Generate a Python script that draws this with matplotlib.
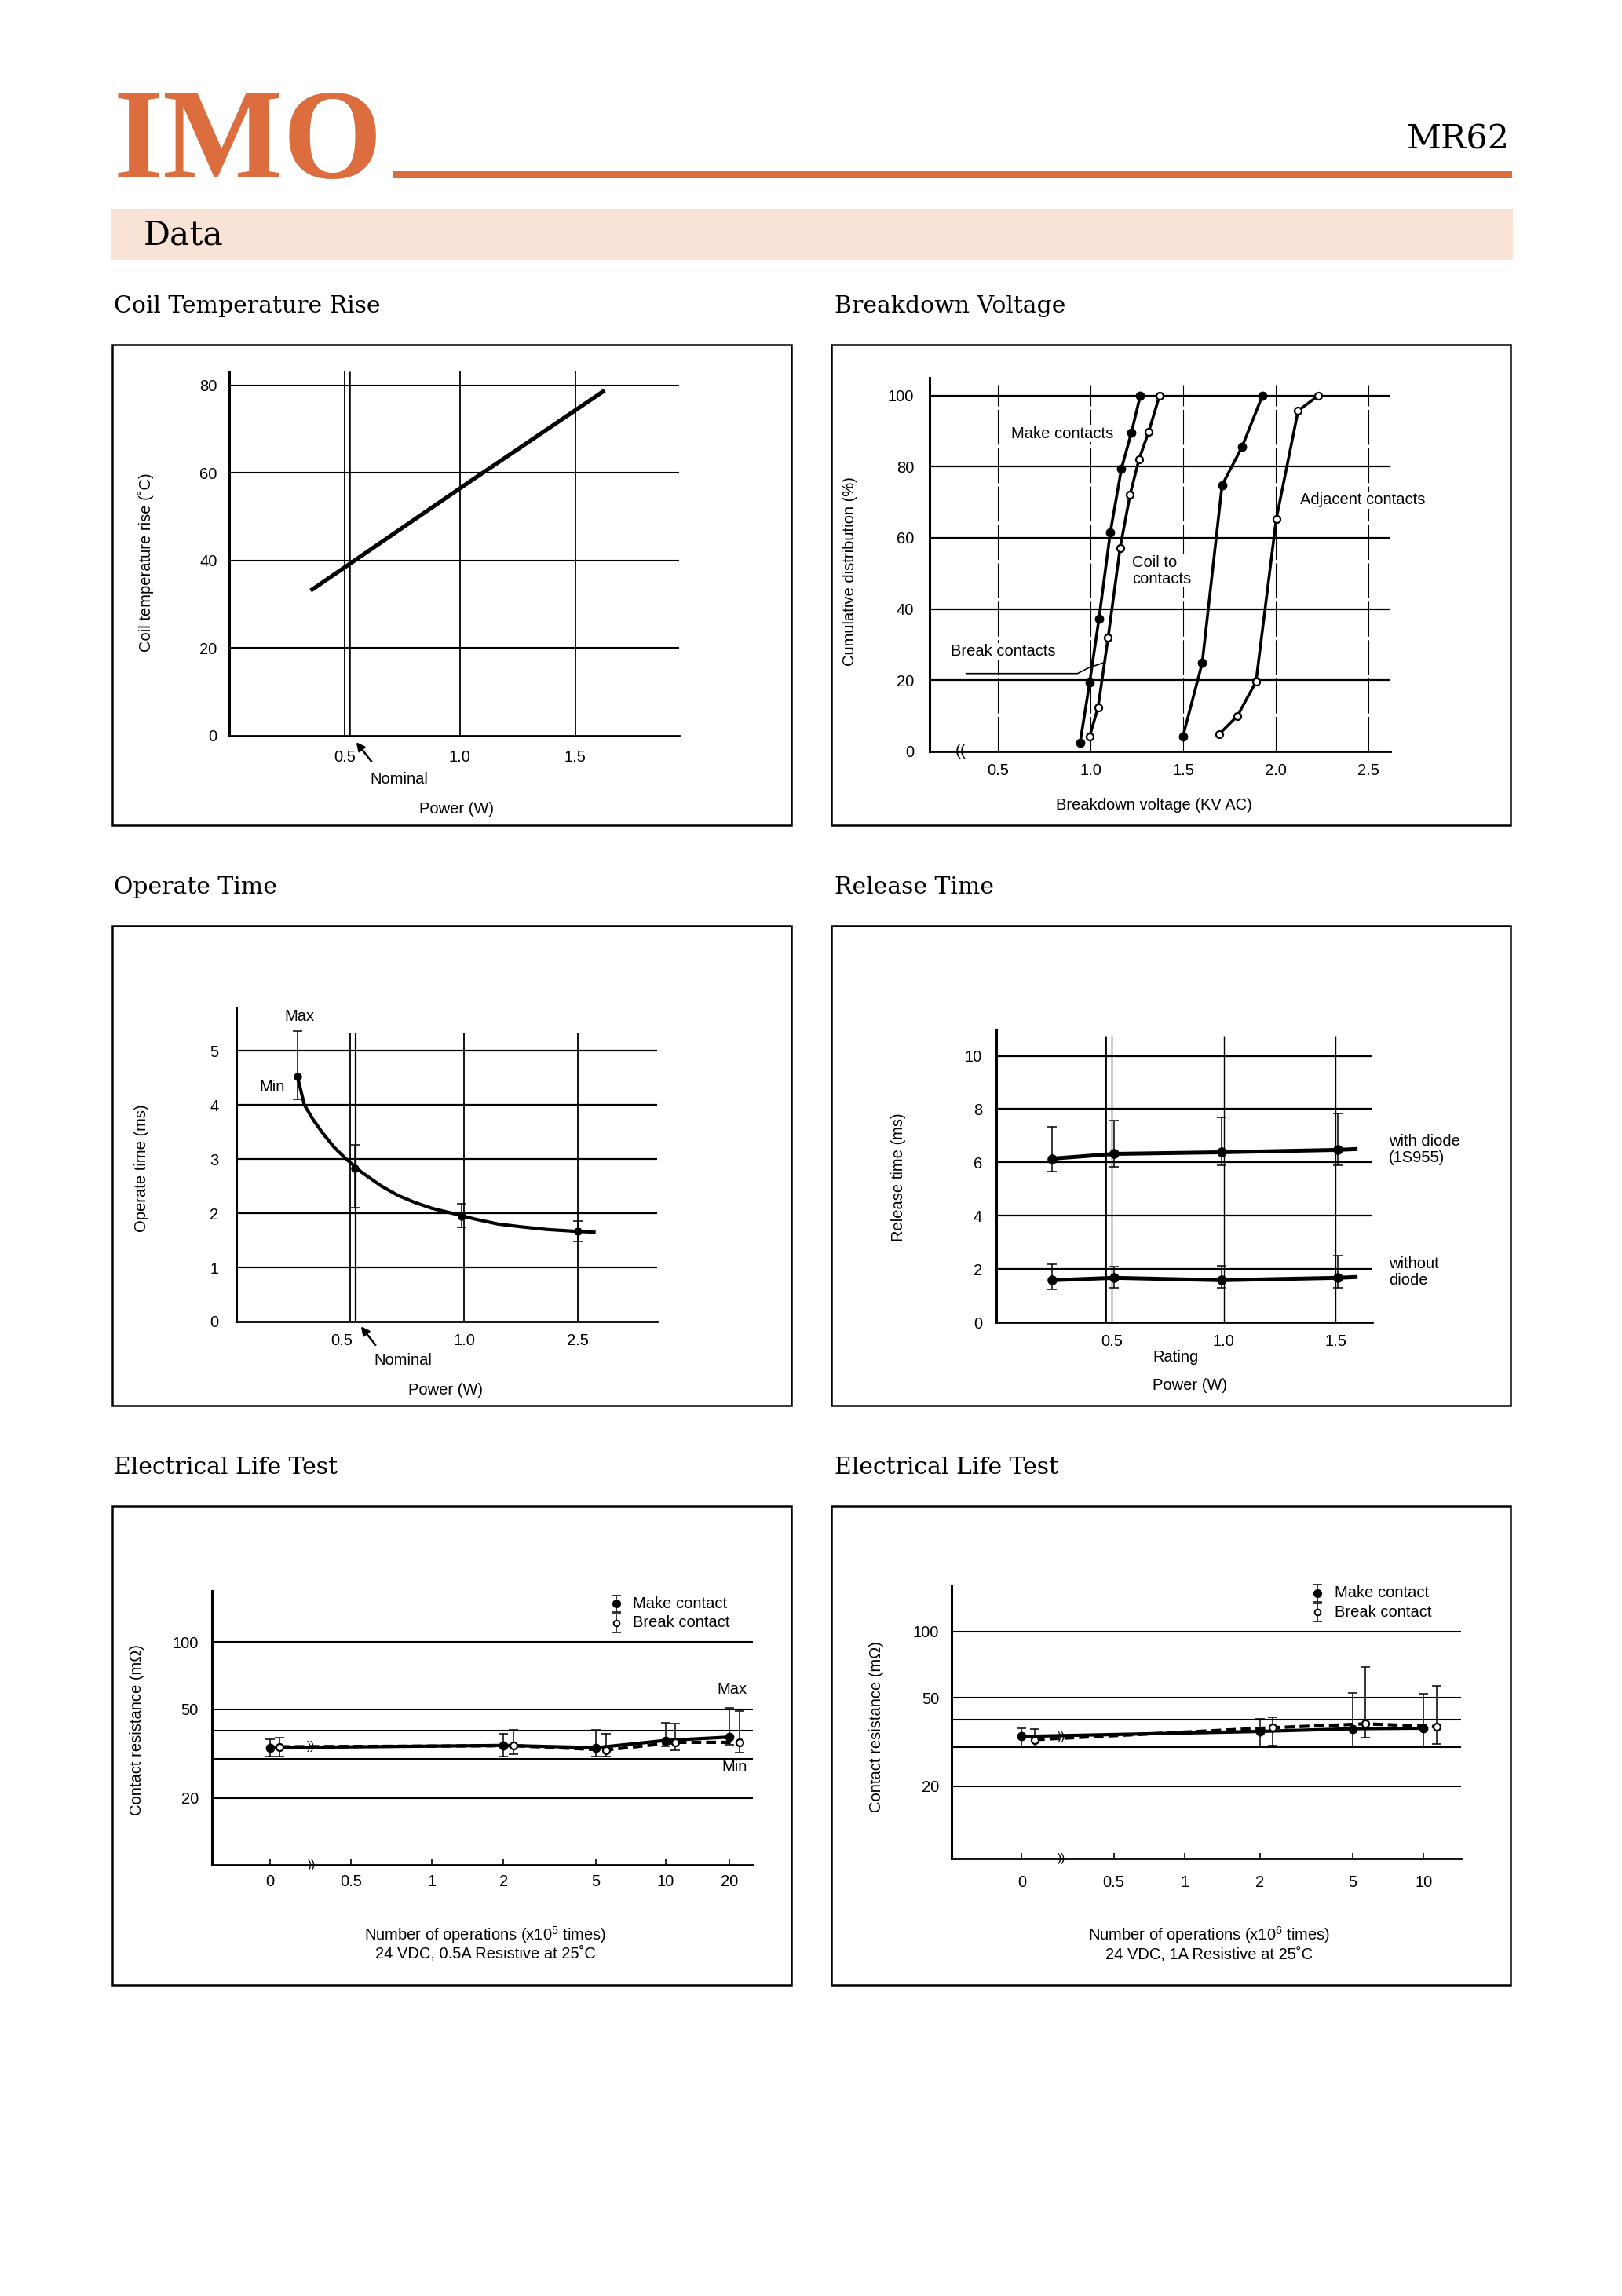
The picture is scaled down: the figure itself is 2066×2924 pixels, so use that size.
import matplotlib
matplotlib.use("Agg")
import matplotlib.pyplot as plt
from matplotlib.patches import Rectangle

W, H = 2066, 2924
ORANGE = "#dc6d3f"
PEACH = "#f9e3d7"
SANS = ["Liberation Sans", "DejaVu Sans"]
SERIF = ["DejaVu Serif", "Liberation Serif"]
LOGO = ["Liberation Serif", "DejaVu Serif"]

plt.rcParams["font.family"] = SANS
plt.rcParams["font.size"] = 14.5
plt.rcParams["mathtext.fontset"] = "custom"
plt.rcParams["mathtext.rm"] = "Liberation Sans"

# ---- Coil temperature rise ----
coil_power = [0.36, 1.0, 1.62]
coil_rise = [33.4, 56.5, 78.6]

# ---- Breakdown voltage (cumulative %) ----
make_kv = [0.944, 0.996, 1.046, 1.107, 1.167, 1.221, 1.269]
make_pct = [2.4, 19.5, 37.3, 61.5, 79.4, 89.6, 100]
break_kv = [0.996, 1.041, 1.095, 1.160, 1.214, 1.262, 1.314, 1.373]
break_pct = [4.3, 12.4, 31.9, 57.2, 72.2, 82.1, 89.8, 100]
coil_kv = [1.499, 1.603, 1.710, 1.817, 1.928]
coil_pct = [4.3, 24.9, 74.8, 85.5, 100]
adj_kv = [1.693, 1.793, 1.893, 2.002, 2.120, 2.230]
adj_pct = [4.8, 10.0, 19.6, 65.2, 95.7, 100]

# ---- Operate time (x is position on the 0.5 / 1.0 / 2.5 W scale) ----
op_ticks = ["0.5", "1.0", "2.5"]
op_pos = [0.54, 1.04, 1.98, 3.0]
op_mean = [4.52, 2.83, 1.95, 1.67]
op_max = [5.37, 3.26, 2.18, 1.86]
op_min = [4.11, 2.10, 1.74, 1.48]
op_curve_pos = [0.54, 0.60, 0.68, 0.754, 0.86, 0.967, 1.1, 1.277, 1.42, 1.567, 1.72, 1.895, 2.10, 2.30, 2.50, 2.727, 2.95, 3.14]
op_curve_val = [4.52, 4.0, 3.72, 3.5, 3.22, 3.0, 2.76, 2.5, 2.33, 2.2, 2.09, 2.0, 1.89, 1.8, 1.75, 1.7, 1.67, 1.65]

# ---- Release time ----
rel_power = [0.23, 0.51, 0.99, 1.51]
rel_line_end = 1.59
diode_mean = [6.14, 6.32, 6.38, 6.47]
diode_max = [7.34, 7.58, 7.68, 7.85]
diode_min = [5.65, 5.83, 5.89, 5.89]
diode_end = 6.50
nodiode_mean = [1.58, 1.67, 1.58, 1.67]
nodiode_max = [2.17, 2.09, 2.13, 2.49]
nodiode_min = [1.24, 1.30, 1.30, 1.30]
nodiode_end = 1.70

# ---- Electrical life test, 0.5A (x10^5 operations) ----
life1_ticks = ["0", "0.5", "1", "2", "5", "10", "20"]
life1_tick_pos = [0, 1.05, 2.1, 3.03, 4.23, 5.13, 5.96]
life1_ops = ["0", "2", "5", "10", "20"]
life1_make = [33.6, 34.4, 33.6, 36.2, 37.5]
life1_make_max = [36.7, 38.8, 40.3, 43.4, 50.6]
life1_make_min = [30.7, 30.7, 30.7, 34.1, 34.7]
life1_break = [33.9, 34.3, 32.8, 35.5, 35.5]
life1_break_max = [37.4, 40.3, 38.8, 43.1, 49.0]
life1_break_min = [30.7, 31.4, 30.7, 32.8, 31.9]

# ---- Electrical life test, 1A (x10^6 operations) ----
life2_ticks = ["0", "0.5", "1", "2", "5", "10"]
life2_tick_pos = [0, 1.19, 2.11, 3.08, 4.28, 5.2]
life2_ops = ["0", "2", "5", "10"]
life2_make = [33.5, 35.3, 36.3, 36.5]
life2_make_max = [36.6, 40.3, 52.5, 52.1]
life2_make_min = [30.1, 30.1, 30.3, 30.3]
life2_break = [32.4, 36.7, 38.2, 37.1]
life2_break_max = [36.1, 41.0, 68.8, 56.6]
life2_break_min = [30.1, 30.5, 33.0, 31.1]

life_lines = [20, 30, 40, 50, 100]


fig = plt.figure(figsize=(W / 100, H / 100), dpi=100)


def page_text(x, y, s, **kw):
    return fig.text(x / W, 1 - y / H, s, **kw)


def page_rect(left, top, right, bottom, **kw):
    r = Rectangle((left / W, 1 - bottom / H), (right - left) / W, (bottom - top) / H,
                  transform=fig.transFigure, **kw)
    fig.add_artist(r)


def make_axes(left, top, right, bottom):
    ax = fig.add_axes([left / W, 1 - bottom / H, (right - left) / W, (bottom - top) / H])
    ax.set_facecolor("none")
    ax.spines["top"].set_visible(False)
    ax.spines["right"].set_visible(False)
    ax.spines["left"].set_linewidth(2.2)
    ax.spines["bottom"].set_linewidth(2.0)
    ax.tick_params(length=0, labelsize=14.5)
    return ax


def bars(ax, x, mean, lo, hi, lw=1.1):
    ax.errorbar(x, mean, yerr=[[m - l for m, l in zip(mean, lo)], [h - m for m, h in zip(mean, hi)]],
                fmt="none", ecolor="k", elinewidth=lw, capsize=4, capthick=lw, clip_on=False)


# ---- page header ----
page_text(145, 226, "IMO", fontsize=117, fontweight="bold", family=LOGO, color=ORANGE, va="baseline")
page_rect(501, 218, 1926, 227, color=ORANGE, lw=0)
page_text(1923, 189, "MR62", fontsize=31, family=SERIF, ha="right", va="baseline")
page_rect(142, 266, 1927, 331, color=PEACH, lw=0)
page_text(183, 312, "Data", fontsize=30.5, family=SERIF, va="baseline")

titles = [(145, 398, "Coil Temperature Rise"), (1063, 398, "Breakdown Voltage"),
          (145, 1138, "Operate Time"), (1063, 1138, "Release Time"),
          (145, 1877, "Electrical Life Test"), (1063, 1877, "Electrical Life Test")]
for x, y, s in titles:
    page_text(x, y, s, fontsize=21.5, family=SERIF, va="baseline")

for top, bottom in [(439, 1051), (1179, 1790), (1918, 2528)]:
    page_rect(143, top, 1008, bottom, fill=False, lw=1.8, ec="k")
    page_rect(1059, top, 1924, bottom, fill=False, lw=1.8, ec="k")

# ---- Coil temperature rise ----
ax = make_axes(292, 473, 865, 937)
ax.set_xlim(0, 1.95)
ax.set_ylim(0, 83.2)
ax.hlines([20, 40, 60, 80], 0, 1.95, color="k", lw=1.5)
ax.vlines([0.5, 1.0, 1.5], 0, 83.2, color="k", lw=1.3)
ax.vlines([0.52], 0, 83.2, color="k", lw=1.8)
ax.plot(coil_power, coil_rise, color="k", lw=3.8)
ax.set_xticks([0.5, 1.0, 1.5], ["0.5", "1.0", "1.5"])
ax.set_yticks([0, 20, 40, 60, 80], ["0", "20", "40", "60", "80"])
ax.tick_params(axis="y", pad=11)
ax.tick_params(axis="x", pad=13)
page_text(185, 716, "Coil temperature rise (˚C)", rotation=90, ha="center", va="center")
page_text(508, 993, "Nominal", ha="center", va="center")
page_text(582, 1031, "Power (W)", ha="center", va="center")
ax.annotate("", xy=(452 / W, 1 - 943 / H), xytext=(475 / W, 1 - 972 / H),
            xycoords="figure fraction", textcoords="figure fraction",
            arrowprops=dict(arrowstyle="-|>", color="k", lw=1.8, mutation_scale=16))

# ---- Breakdown voltage ----
ax = make_axes(1183.5, 481, 1771.5, 957)
ax.set_xlim(0.13, 2.62)
ax.set_ylim(0, 105)
ax.hlines([20, 40, 60, 80, 100], 0.13, 2.62, color="k", lw=1.6, zorder=1)
ax.vlines([0.5, 1.0, 1.5, 2.0, 2.5], 0, 103, color="k", lw=0.8, linestyles=(0, (40, 4)), zorder=1)
ax.plot(make_kv, make_pct, "-o", color="k", lw=2.6, ms=7.5, mfc="k", zorder=3)
ax.plot(break_kv, break_pct, "-o", color="k", lw=2.6, ms=6.5, mfc="white", mew=1.6, zorder=3)
ax.plot(coil_kv, coil_pct, "-o", color="k", lw=2.6, ms=7.5, mfc="k", zorder=3)
ax.plot(adj_kv, adj_pct, "-o", color="k", lw=2.6, ms=6.5, mfc="white", mew=1.6, zorder=3)
ax.plot([0.33, 0.93, 0.99, 1.07], [21.9, 21.9, 23.5, 24.9], color="k", lw=1.2)
label_box = dict(facecolor="white", edgecolor="none", pad=1)
ax.text(0.571, 89.3, "Make contacts", va="center", bbox=label_box, zorder=2)
ax.text(1.224, 50.8, "Coil to\ncontacts", va="center", linespacing=1.15, bbox=label_box, zorder=2)
ax.text(2.13, 70.6, "Adjacent contacts", va="center", bbox=label_box, zorder=2)
ax.text(0.246, 28.1, "Break contacts", va="center", bbox=label_box, zorder=2)
ax.text(0.30, 0, "((", ha="center", va="center", fontsize=15)
ax.set_xticks([0.5, 1.0, 1.5, 2.0, 2.5], ["0.5", "1.0", "1.5", "2.0", "2.5"])
ax.set_yticks([0, 20, 40, 60, 80, 100], ["0", "20", "40", "60", "80", "100"])
ax.tick_params(axis="y", pad=14)
ax.tick_params(axis="x", pad=11)
page_text(1083, 728, "Cumulative distribution (%)", rotation=90, ha="center", va="center")
page_text(1469.5, 1025, "Breakdown voltage (KV AC)", ha="center", va="center")

# ---- Operate time ----
ax = make_axes(300.5, 1283, 836.5, 1683)
ax.set_xlim(0, 3.69)
ax.set_ylim(0, 5.8)
ax.hlines([1, 2, 3, 4, 5], 0, 3.69, color="k", lw=1.6)
ax.vlines([1.0, 2.0, 3.0], 0, 5.33, color="k", lw=1.3)
ax.vlines([1.05], 0, 5.33, color="k", lw=1.6)
ax.plot(op_curve_pos, op_curve_val, color="k", lw=3.0)
bars(ax, op_pos, op_mean, op_min, op_max)
ax.plot(op_pos, op_mean, "o", color="k", ms=6.5)
ax.text(0.56, 5.64, "Max", ha="center", va="center")
ax.text(0.32, 4.33, "Min", ha="center", va="center")
ax.set_xticks([0.93, 2.0, 3.0], op_ticks)
ax.set_yticks([0, 1, 2, 3, 4, 5], ["0", "1", "2", "3", "4", "5"])
ax.tick_params(axis="y", pad=16)
ax.tick_params(axis="x", pad=11)
page_text(180, 1488, "Operate time (ms)", rotation=90, ha="center", va="center")
page_text(513.5, 1732, "Nominal", ha="center", va="center")
page_text(567.5, 1770, "Power (W)", ha="center", va="center")
ax.annotate("", xy=(458 / W, 1 - 1687 / H), xytext=(480 / W, 1 - 1715 / H),
            xycoords="figure fraction", textcoords="figure fraction",
            arrowprops=dict(arrowstyle="-|>", color="k", lw=1.8, mutation_scale=16))

# ---- Release time ----
ax = make_axes(1269, 1311, 1748, 1684)
ax.set_xlim(-0.018, 1.665)
ax.set_ylim(0, 10.99)
ax.hlines([2, 4, 6, 8, 10], -0.018, 1.665, color="k", lw=1.6)
ax.vlines([0.47], 0, 10.72, color="k", lw=2.0)
ax.vlines([0.5, 1.0, 1.5], 0, 10.72, color="k", lw=1.0)
ax.plot(rel_power + [rel_line_end], diode_mean + [diode_end], color="k", lw=3.6)
ax.plot(rel_power + [rel_line_end], nodiode_mean + [nodiode_end], color="k", lw=3.6)
bars(ax, rel_power, diode_mean, diode_min, diode_max)
bars(ax, rel_power, nodiode_mean, nodiode_min, nodiode_max)
ax.plot(rel_power, diode_mean, "o", color="k", ms=8)
ax.plot(rel_power, nodiode_mean, "o", color="k", ms=8)
ax.text(1.738, 6.48, "with diode\n(1S955)", va="center", linespacing=1.15, clip_on=False)
ax.text(1.738, 1.88, "without\ndiode", va="center", linespacing=1.15, clip_on=False)
ax.set_xticks([0.5, 1.0, 1.5], ["0.5", "1.0", "1.5"])
ax.set_yticks([0, 2, 4, 6, 8, 10], ["0", "2", "4", "6", "8", "10"])
ax.tick_params(axis="y", pad=13)
ax.tick_params(axis="x", pad=11)
page_text(1145, 1499, "Release time (ms)", rotation=90, ha="center", va="center")
page_text(1497, 1728, "Rating", ha="center", va="center")
page_text(1515.5, 1765, "Power (W)", ha="center", va="center")


def life_chart(ax, tick_pos, ticks, ops, make, make_lo, make_hi, brk, brk_lo, brk_hi,
               offset, xmin, xmax, ymin, ymax, legend_x, break_x):
    pos = dict(zip(ticks, tick_pos))
    mx = [pos[o] for o in ops]
    bx = [pos[o] + offset for o in ops]
    ax.set_yscale("log")
    ax.set_xlim(xmin, xmax)
    ax.set_ylim(ymin, ymax)
    ax.hlines(life_lines, xmin, xmax, color="k", lw=1.5)
    ax.plot(bx, brk, color="k", lw=3.0, ls=(0, (3, 1.5)))
    ax.plot(mx, make, color="k", lw=3.0)
    bars(ax, mx, make, make_lo, make_hi)
    bars(ax, bx, brk, brk_lo, brk_hi)
    ax.plot(mx, make, "o", color="k", ms=7.5)
    ax.plot(bx, brk, "o", color="k", ms=6.5, mfc="white", mew=1.6)
    ax.text(break_x, ymin, "))", ha="center", va="center", fontsize=11, clip_on=False)
    ax.set_xticks(tick_pos, ticks)
    ax.set_yticks([20, 50, 100], ["20", "50", "100"])
    ax.minorticks_off()
    ax.tick_params(axis="x", length=5, direction="in", width=1.2)
    # legend
    bars(ax, [legend_x], [149], [136], [162])
    ax.plot([legend_x], [149], "o", color="k", ms=7)
    bars(ax, [legend_x], [122], [111], [134])
    ax.plot([legend_x], [122], "o", color="k", ms=5.5, mfc="white", mew=1.4)
    ax.text(legend_x + 0.22, 149, "Make contact", va="center")
    ax.text(legend_x + 0.22, 122, "Break contact", va="center")


# ---- Electrical life test (0.5A) ----
ax = make_axes(269.5, 2026, 959, 2375)
life_chart(ax, life1_tick_pos, life1_ticks, life1_ops, life1_make, life1_make_min,
           life1_make_max, life1_break, life1_break_min, life1_break_max,
           0.13, -0.754, 6.263, 10, 170, 4.49, 0.54)
ax.text(0.53, 34.0, "))", ha="center", va="center", fontsize=11)
ax.text(5.99, 61.3, "Max", ha="center", va="center")
ax.text(6.02, 27.5, "Min", ha="center", va="center")
ax.tick_params(axis="y", pad=12)
ax.tick_params(axis="x", pad=9)
page_text(174, 2203, "Contact resistance (mΩ)", rotation=90, ha="center", va="center")
page_text(618, 2464, "Number of operations (x10$^5$ times)", ha="center", va="center")
page_text(618, 2488, "24 VDC, 0.5A Resistive at 25˚C", ha="center", va="center")

# ---- Electrical life test (1A) ----
ax = make_axes(1211.5, 2020, 1861, 2367)
life_chart(ax, life2_tick_pos, life2_ticks, life2_ops, life2_make, life2_make_min,
           life2_make_max, life2_break, life2_break_min, life2_break_max,
           0.17, -0.914, 5.686, 9.4, 160, 3.83, 0.51)
ax.text(0.51, 33.3, "))", ha="center", va="center", fontsize=11)
ax.tick_params(axis="y", pad=11)
ax.tick_params(axis="x", pad=15)
page_text(1116, 2199, "Contact resistance (mΩ)", rotation=90, ha="center", va="center")
page_text(1540, 2464, "Number of operations (x10$^6$ times)", ha="center", va="center")
page_text(1540, 2489, "24 VDC, 1A Resistive at 25˚C", ha="center", va="center")

fig.savefig("out.png", dpi=100, facecolor="white")
